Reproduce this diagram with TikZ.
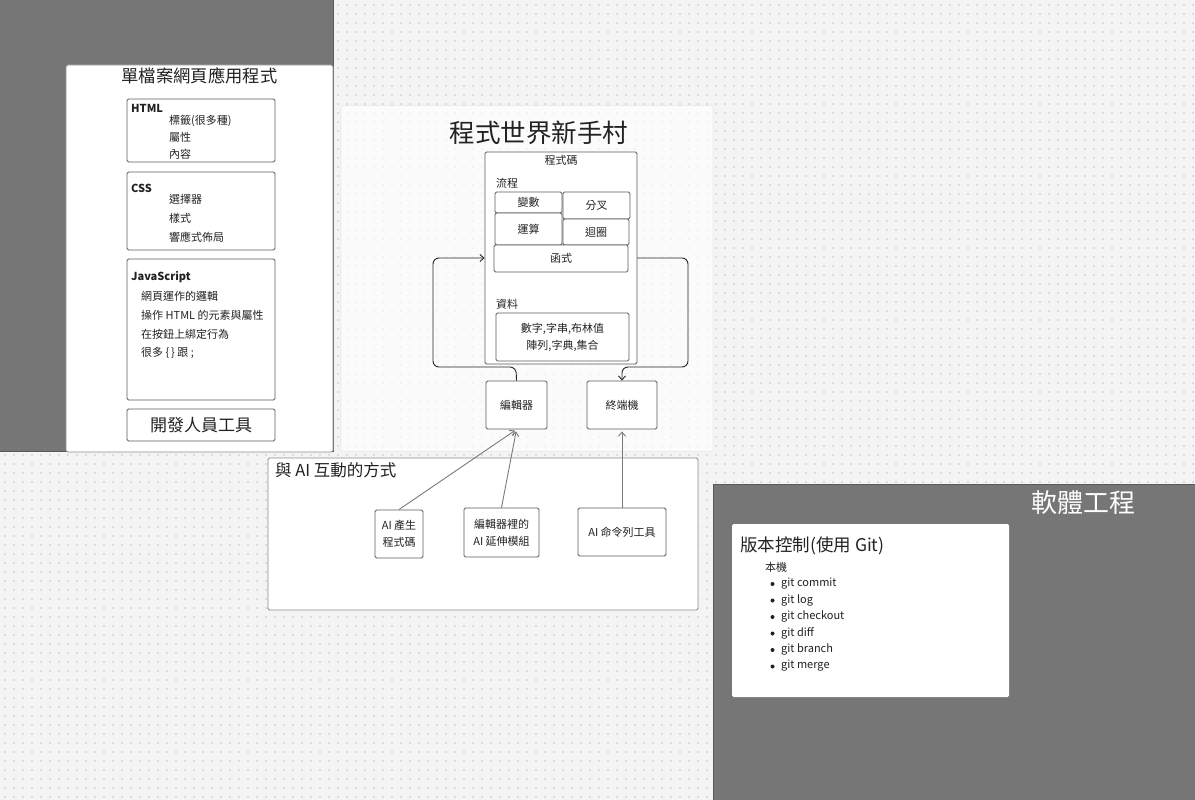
\documentclass[tikz,border=0pt]{standalone}
\usepackage{fontspec}
\setmainfont{Noto Sans CJK TC}
\usetikzlibrary{arrows.meta}
\definecolor{bgc}{HTML}{F4F4F4}
\definecolor{dotc}{HTML}{DCDCDC}
\definecolor{darkc}{HTML}{767676}
\definecolor{darkline}{HTML}{5A5A5A}
\definecolor{txt}{HTML}{222222}
\definecolor{boxline}{HTML}{5C5C5C}
\definecolor{linkc}{HTML}{7A7A7A}
\begin{document}
\begin{tikzpicture}[x=1pt,y=-1pt,
  panel/.style={draw=boxline!70, fill=white, line width=0.8pt, rounded corners=1.5pt, inner sep=0pt, anchor=center},
  cbox/.style={draw=boxline, line width=0.9pt, rounded corners=1.5pt, inner sep=0pt, anchor=center, fill=white, text=txt, font=\fontsize{11}{13}\selectfont, align=center},
  lbl/.style={text=txt, inner sep=0pt, font=\fontsize{11}{13}\selectfont},
  bullet/.style={circle, fill=txt, inner sep=0pt, minimum size=4pt},
  flow/.style={draw=black!85, line width=0.9pt, rounded corners=6pt, -{Straight Barb[length=4pt,width=7pt]}},
  link/.style={draw=linkc, line width=0.9pt, -{Straight Barb[length=4pt,width=7pt]}, shorten >=2pt}
]
\useasboundingbox (0,0) rectangle (1195,800);
\fill[bgc] (0,0) rectangle (1195,800);
\foreach \yy in {5,14,...,800}
  \draw[dotc, line width=1.1pt, dash pattern=on 1.1pt off 7.9pt] (4.4,\yy) -- (1195,\yy);
% dark areas
\fill[darkc] (0,0) rectangle (333,451);
\draw[darkline, line width=0.8pt] (333,0) -- (333,451) -- (0,451);
\fill[darkc] (713,484) rectangle (1195,800);
\draw[darkline, line width=0.8pt] (713,800) -- (713,484) -- (1195,484);

% ---------- left panel ----------
\node[panel, minimum width=267pt, minimum height=387pt] (lp) at (199.5,258.5) {};
\node[lbl, font=\fontsize{17.3}{19}\selectfont] (lpt) at (199.5,76) {單檔案網頁應用程式};
\node[cbox, minimum width=148pt, minimum height=63pt] (html) at (201,130.5) {};
\node[lbl, anchor=west, font=\fontsize{11}{13}\selectfont\bfseries] (htmlt) at (131,108) {HTML};
\node[lbl, anchor=west] (h1) at (169,121) {標籤(很多種)};
\node[lbl, anchor=west] (h2) at (169,137.5) {屬性};
\node[lbl, anchor=west] (h3) at (169,154) {內容};
\node[cbox, minimum width=148pt, minimum height=78pt] (css) at (201,211) {};
\node[lbl, anchor=west, font=\fontsize{11}{13}\selectfont\bfseries] (csst) at (131,188) {CSS};
\node[lbl, anchor=west] (c1) at (169,199) {選擇器};
\node[lbl, anchor=west] (c2) at (169,218) {樣式};
\node[lbl, anchor=west] (c3) at (169,237) {響應式佈局};
\node[cbox, minimum width=148pt, minimum height=141pt] (js) at (201,329.5) {};
\node[lbl, anchor=west, font=\fontsize{11}{13}\selectfont\bfseries] (jst) at (131,277) {JavaScript};
\node[lbl, anchor=west] (j1) at (141,296) {網頁運作的邏輯};
\node[lbl, anchor=west] (j2) at (141,315) {操作 HTML 的元素與屬性};
\node[lbl, anchor=west] (j3) at (141,334) {在按鈕上綁定行為};
\node[lbl, anchor=west] (j4) at (141,353) {很多 \{\,\} 跟 ;};
\node[cbox, minimum width=148pt, minimum height=32pt, font=\fontsize{17}{19}\selectfont] (dev) at (201,425) {開發人員工具};

% ---------- center panel ----------
\node[panel, draw=black!8, fill=white, fill opacity=0.65, minimum width=372pt, minimum height=346pt] (cp) at (527,278.5) {};
\node[lbl, font=\fontsize{25.5}{28}\selectfont] (cpt) at (539,133) {程式世界新手村};
\node[cbox, minimum width=152pt, minimum height=212pt] (code) at (561,258) {};
\node[lbl] (codet) at (561,160.5) {程式碼};
\node[lbl, anchor=west] (flowt) at (496,183) {流程};
\node[cbox, minimum width=67pt, minimum height=21pt] (var) at (528.5,202.5) {變數};
\node[cbox, minimum width=67pt, minimum height=27pt] (branch) at (596.5,205.5) {分叉};
\node[cbox, minimum width=67pt, minimum height=32pt] (op) at (528.5,229) {運算};
\node[cbox, minimum width=66pt, minimum height=26pt] (loop) at (596,232) {迴圈};
\node[cbox, minimum width=134pt, minimum height=27pt] (func) at (561,258.5) {函式};
\node[lbl, anchor=west] (datat) at (496,304) {資料};
\node[cbox, minimum width=133pt, minimum height=48pt, font=\fontsize{11}{17}\selectfont] (data) at (562.5,337) {數字,字串,布林值\\陣列,字典,集合};
\node[cbox, minimum width=61pt, minimum height=48pt] (editor) at (516.5,405) {編輯器};
\node[cbox, minimum width=70pt, minimum height=48pt] (term) at (622,405) {終端機};
\coordinate (e1) at (516,367);
\coordinate (e2) at (433,367);
\coordinate (e3) at (433,258);
\coordinate (t1) at (688,258);
\coordinate (t2) at (688,367);
\coordinate (t3) at (622,367);
\draw[flow] (editor.north) -- (e1) -- (e2) -- (e3) -- (code.west);
\draw[flow] (code.east) -- (t1) -- (t2) -- (t3) -- (term.north);

% ---------- AI panel ----------
\node[panel, minimum width=430pt, minimum height=152pt] (aip) at (483,534) {};
\node[lbl, anchor=west, font=\fontsize{16.5}{18}\selectfont] (aipt) at (275,470) {與 AI 互動的方式};
\node[cbox, minimum width=48pt, minimum height=48pt, font=\fontsize{11}{17}\selectfont] (aigen) at (399,534) {AI 產生\\程式碼};
\node[cbox, minimum width=75pt, minimum height=49pt, font=\fontsize{11}{17}\selectfont] (aiext) at (501.5,532.5) {編輯器裡的\\AI 延伸模組};
\node[cbox, minimum width=88pt, minimum height=48pt] (aicli) at (622,532) {AI 命令列工具};
\draw[link] (aigen.north) -- (editor.south);
\draw[link] (aiext.north) -- (editor.south);
\draw[link] (aicli.north) -- (term.south);

% ---------- right panel ----------
\node[lbl, text=white, font=\fontsize{26}{28}\selectfont] (swt) at (1083,503) {軟體工程};
\node[panel, draw=none, minimum width=277pt, minimum height=173pt] (git) at (870.5,610.5) {};
\node[lbl, anchor=west, font=\fontsize{17.5}{20}\selectfont] (gitt) at (740,546) {版本控制(使用 Git)};
\node[lbl, anchor=west] (local) at (765,567) {本機};
\foreach \i/\t in {0/git commit,1/git log,2/git checkout,3/git diff,4/git branch,5/git merge}{
  \node[bullet] (b\i) at (772.5,584+16.5*\i) {};
  \node[lbl, anchor=west] (g\i) at (781,583.5+16.5*\i) {\t};
}
\end{tikzpicture}
\end{document}
